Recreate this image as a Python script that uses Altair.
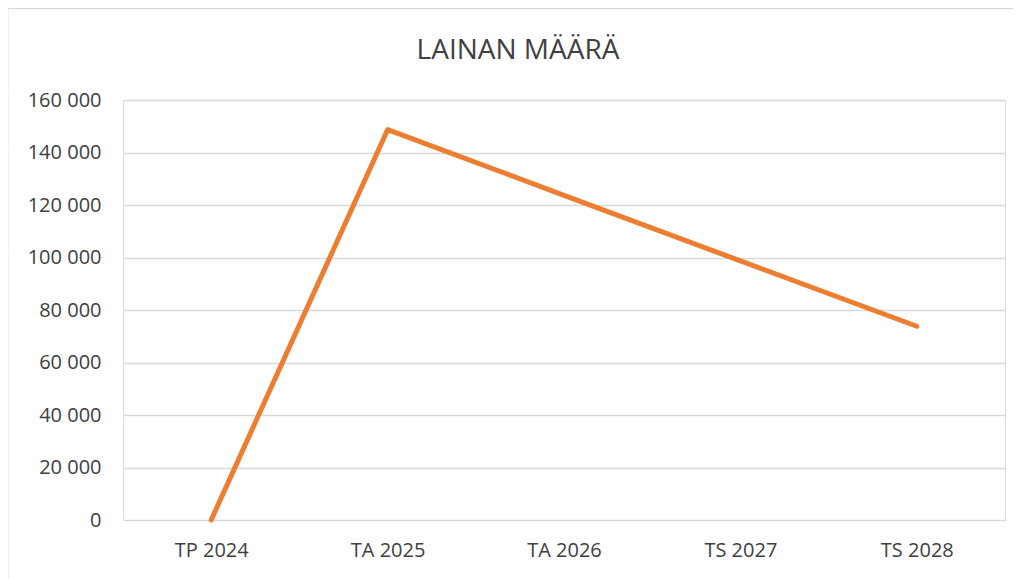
import altair as alt
import pandas as pd

title_text = "LAINAN MÄÄRÄ"
categories = ["TP 2024", "TA 2025", "TA 2026", "TS 2027", "TS 2028"]
values = [0, 148700, 123700, 98700, 73800]
y_ticks = [0, 20000, 40000, 60000, 80000, 100000, 120000, 140000, 160000]

df = pd.DataFrame({"cat": categories, "val": values})
tdf = pd.DataFrame({"t": [title_text]})

W, H = 882, 420
PL, PT = 115, 92

line = alt.Chart(df).mark_line(
    color="#ED7D31", strokeWidth=5, strokeCap="round", strokeJoin="round"
).encode(
    x=alt.X("cat:N", sort=categories, title=None,
            scale=alt.Scale(type="point", padding=0.5),
            axis=alt.Axis(labelAngle=0, labelPadding=20, ticks=False, domain=False,
                          grid=False, labelFontSize=20, labelColor="#404040",
                          labelFont="Open Sans")),
    y=alt.Y("val:Q", title=None,
            scale=alt.Scale(domain=[0, 160000], nice=False),
            axis=alt.Axis(values=y_ticks, ticks=False, domain=False,
                          labelPadding=22, labelFontSize=20, labelColor="#404040",
                          labelFont="Open Sans", gridColor="#d9d9d9", gridWidth=1.3,
                          labelExpr="replace(format(datum.value, ',d'), ',', ' ')")),
)

title = alt.Chart(tdf).mark_text(
    font="Open Sans", fontSize=28, color="#404040", align="center",
    baseline="alphabetic", clip=False
).encode(text="t:N", x=alt.value(395), y=alt.value(-41))

frame = alt.Chart(tdf).mark_rect(
    fill="transparent", stroke="#d9d9d9", strokeWidth=1.3, clip=False
).encode(
    x=alt.value(-PL - 0.3), x2=alt.value(W + 60),
    y=alt.value(-PT + 0.7), y2=alt.value(H + 100),
)

chart = alt.layer(frame, title, line).properties(
    width=W, height=H,
    padding={"left": PL, "top": PT, "right": 8, "bottom": 59},
    autosize=alt.AutoSizeParams(type="none"),
).configure_view(
    strokeWidth=0, stroke=None, fill="white"
).configure_axisX(grid=False, domain=False, ticks=False
).configure_axis(domain=False).configure(background="white")

chart.save("out.html", embed_options={"renderer": "svg", "actions": False})
